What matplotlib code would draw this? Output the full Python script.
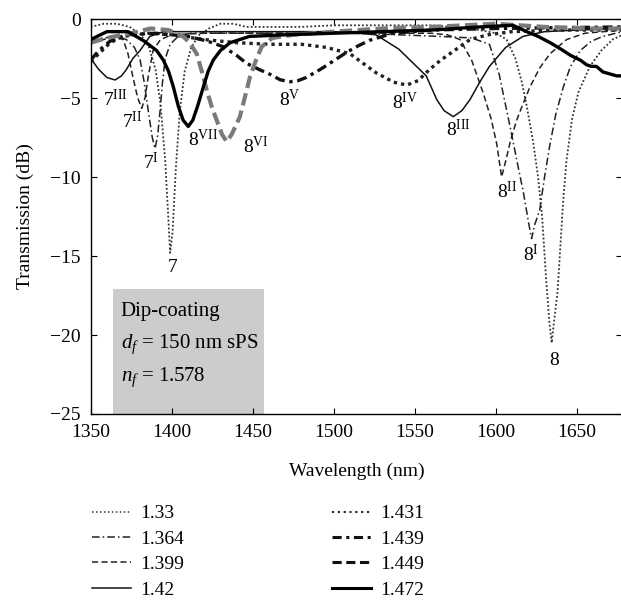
import matplotlib
matplotlib.use("Agg")
import matplotlib.pyplot as plt
from matplotlib.patches import Rectangle
from matplotlib.lines import Line2D

plt.rcParams['font.family'] = ['Liberation Serif', 'DejaVu Serif']
plt.rcParams['mathtext.fontset'] = 'custom'
plt.rcParams['mathtext.rm'] = 'Liberation Serif'
plt.rcParams['mathtext.it'] = 'Liberation Serif:italic'

# ---------------- data ----------------
w133 = [1350, 1358, 1366, 1374, 1381, 1386, 1390, 1393, 1396, 1398, 1399, 1400.5, 1402.5, 1405, 1408, 1412,
        1417, 1423, 1430, 1438, 1446, 1460, 1480, 1500, 1530, 1560, 1585, 1600, 1606.6, 1612, 1616, 1619,
        1623, 1626, 1628.5, 1631, 1633, 1634.4, 1636, 1638, 1640, 1641.5, 1643.5, 1647, 1651, 1658, 1665,
        1672, 1678]
t133 = [-0.5, -0.3, -0.3, -0.5, -1.0, -1.8, -3.2, -5.3, -9.0, -12.8, -14.8, -13.5, -9.5, -5.8, -3.3, -1.8,
        -1.0, -0.6, -0.3, -0.3, -0.5, -0.5, -0.5, -0.4, -0.4, -0.4, -0.6, -0.9, -1.3, -2.5, -4.0, -5.5,
        -7.8, -10.0, -12.5, -16.5, -19.2, -20.5, -19.0, -17.3, -14.0, -11.5, -9.0, -6.3, -4.6, -3.0, -2.0,
        -1.3, -1.0]

w1364 = [1350, 1358, 1366, 1372, 1377, 1380.5, 1383, 1385.5, 1388, 1389.7, 1391.3, 1392.8, 1394.3, 1396,
         1399, 1404, 1412, 1425, 1450, 1480, 1510, 1540, 1565, 1585, 1596, 1602, 1608.7, 1613, 1617, 1620,
         1622, 1624, 1627, 1630, 1633.4, 1637, 1641.6, 1646, 1652, 1659, 1666, 1678]
t1364 = [-1.4, -1.2, -1.1, -1.3, -1.8, -2.6, -4.0, -5.8, -7.5, -8.2, -7.4, -5.8, -4.0, -2.5,
         -1.6, -1.1, -0.9, -0.9, -0.9, -0.9, -0.9, -1.0, -1.1, -1.2, -1.6, -3.5, -6.8, -9.0, -11.0, -12.8,
         -13.9, -13.0, -12.1, -10.0, -7.9, -6.0, -4.3, -3.0, -2.0, -1.4, -1.1, -0.8]

w1399 = [1350, 1358, 1365, 1370, 1373, 1376, 1379, 1381.5, 1383.5, 1385.5, 1388.5, 1393, 1400, 1420, 1460,
         1500, 1540, 1560, 1570, 1577.8, 1585, 1592.2, 1597, 1600.5, 1603.5, 1606, 1609, 1612.8, 1617, 1621,
         1627, 1633.4, 1643.6, 1655, 1678]
t1399 = [-1.5, -1.3, -1.1, -1.3, -2.2, -3.65, -5.0, -5.65, -5.0, -3.65, -2.0, -1.3, -1.0, -0.9, -0.9,
         -0.9, -0.9, -0.9, -1.0, -1.3, -2.6, -4.7, -6.3, -7.9, -10.0, -9.0, -7.7, -6.4, -5.3, -4.3,
         -3.1, -2.2, -1.3, -0.9, -0.7]

w142 = [1350, 1355, 1360, 1365, 1369, 1372, 1376, 1380.4, 1386.5, 1395, 1420, 1460, 1500, 1515, 1526, 1540,
        1551, 1557, 1563.5, 1568, 1573.7, 1579, 1584, 1590, 1596, 1606, 1616.7, 1630, 1650, 1678]
t142 = [-2.5, -3.2, -3.7, -3.86, -3.6, -3.2, -2.5, -2.0, -1.1, -0.8, -0.8, -0.8, -0.8, -0.9, -1.0, -1.9,
        -3.0, -3.6, -5.1, -5.8, -6.18, -5.8, -5.1, -4.0, -3.0, -1.8, -1.1, -0.8, -0.7, -0.6]

w1431 = [1350, 1355, 1362, 1370, 1385, 1400, 1420, 1440, 1460, 1480, 1495.6, 1510, 1526, 1537, 1545, 1552,
         1559, 1566, 1571.6, 1584, 1595, 1610, 1640, 1678]
t1431 = [-2.7, -2.2, -1.5, -1.1, -0.9, -1.0, -1.3, -1.5, -1.6, -1.6, -1.8, -2.2, -3.4, -4.0, -4.18, -3.9,
         -3.2, -2.6, -2.2, -1.3, -1.0, -0.8, -0.7, -0.7]

w1439 = [1350, 1355, 1362, 1372, 1390, 1410, 1422, 1431.6, 1440, 1446, 1454, 1460.6, 1467, 1473, 1478, 1483,
         1491.5, 1497.6, 1508, 1515, 1522, 1536.5, 1560, 1600, 1678]
t1439 = [-2.6, -2.0, -1.4, -1.0, -0.9, -1.1, -1.4, -1.75, -2.3, -2.8, -3.2, -3.5, -3.85, -3.97, -3.9, -3.7,
         -3.2, -2.8, -2.1, -1.7, -1.35, -0.9, -0.7, -0.6, -0.5]

w1449 = [1350, 1360, 1375, 1387, 1398, 1407, 1411, 1415.4, 1418.5, 1421.6, 1424.5, 1427.7, 1431, 1433.9,
         1437, 1442, 1445, 1448.3, 1452, 1455.5, 1462, 1475, 1500, 1530, 1560, 1600, 1630, 1660, 1678]
t1449 = [-1.5, -1.2, -0.9, -0.6, -0.7, -1.1, -1.5, -2.2, -3.3, -4.5, -5.5, -6.4, -7.3, -7.76,
         -7.3, -6.2, -5.0, -3.65, -2.6, -1.75, -1.2, -1.0, -0.8, -0.6, -0.5, -0.3, -0.5, -0.6, -0.6]

w1472 = [1350, 1360, 1373, 1383, 1390.7, 1394.8, 1398, 1401, 1404, 1407, 1410.2, 1413, 1416, 1419.5, 1422.5,
         1425.6, 1430, 1436, 1448, 1470, 1500, 1530, 1560, 1590, 1610.6, 1619, 1626, 1633.5, 1640, 1646,
         1652, 1656, 1659, 1662, 1666, 1674.5, 1678]
t1472 = [-1.3, -0.8, -0.8, -1.4, -2.0, -2.6, -3.3, -4.3, -5.5, -6.4, -6.8, -6.4, -5.5, -4.3, -3.3,
         -2.6, -2.0, -1.5, -1.1, -1.0, -0.9, -0.8, -0.7, -0.5, -0.4, -0.8, -1.1, -1.5, -1.9, -2.3,
         -2.6, -2.9, -3.0, -3.0, -3.35, -3.6, -3.6]

series_labels = ['1.33', '1.364', '1.399', '1.42', '1.431', '1.439', '1.449', '1.472']

dip_labels = [r'$7^{\mathrm{III}}$', r'$7^{\mathrm{II}}$', r'$7^{\mathrm{I}}$', r'$7$',
              r'$8^{\mathrm{VII}}$', r'$8^{\mathrm{VI}}$', r'$8^{\mathrm{V}}$', r'$8^{\mathrm{IV}}$',
              r'$8^{\mathrm{III}}$', r'$8^{\mathrm{II}}$', r'$8^{\mathrm{I}}$', r'$8$']
dip_label_x = [1365, 1375.3, 1387, 1400.6, 1419, 1452, 1473, 1544, 1577, 1607, 1621.6, 1636]
dip_label_y = [-5.1, -6.5, -9.1, -15.7, -7.6, -8.1, -5.1, -5.3, -7.0, -10.9, -14.9, -21.6]

box_lines = ['Dip-coating', r'$d_f$ = 150 nm sPS', r'$n_f$ = 1.578']

# ---------------- figure ----------------
fig = plt.figure(figsize=(6.21, 6.04), dpi=100)
ax = fig.add_axes([0.14605, 0.31457, 0.8556, 0.65397])

styles = [
    dict(color='#333333', lw=1.3, ls=(0, (1, 1.2))),
    dict(color='#222222', lw=1.1, ls=(0, (5, 2, 1, 2))),
    dict(color='#222222', lw=1.1, ls=(0, (4, 2.2))),
    dict(color='#111111', lw=1.1, ls='-'),
    dict(color='#222222', lw=2.4, ls=(0, (1, 1.2))),
    dict(color='#111111', lw=2.4, ls=(0, (3, 1.4, 1, 1.4))),
    dict(color='#7a7a7a', lw=3.0, ls=(0, (3, 1.3))),
    dict(color='#000000', lw=2.4, ls='-'),
]
legend_styles = [
    dict(color='#333333', lw=1.1, ls=(0, (1, 1.6))),
    dict(color='#222222', lw=1.1, ls=(0, (5, 2, 1, 2))),
    dict(color='#222222', lw=1.1, ls=(0, (4, 2.2))),
    dict(color='#111111', lw=1.1, ls='-'),
    dict(color='#222222', lw=1.5, ls=(0, (1, 1.8))),
    dict(color='#111111', lw=2.2, ls=(0, (3, 1.5, 1, 1.5))),
    dict(color='#111111', lw=2.2, ls=(0, (3, 1.5))),
    dict(color='#000000', lw=2.2, ls='-'),
]
xs = [w133, w1364, w1399, w142, w1431, w1439, w1449, w1472]
ys = [t133, t1364, t1399, t142, t1431, t1439, t1449, t1472]
for x, y, lab, st in zip(xs, ys, series_labels, styles):
    ax.plot(x, y, label=lab, solid_joinstyle='round', **st)

handles = [Line2D([], [], **st) for st in legend_styles]

for s, lx, ly in zip(dip_labels, dip_label_x, dip_label_y):
    ax.text(lx, ly, s, ha='center', va='center', fontsize=14)

ax.add_patch(Rectangle((1363.9, -25), 93.2, 7.9, facecolor='#cccccc', edgecolor='none', zorder=1))
for i, s in enumerate(box_lines):
    ax.text(1368.5, -18.5 - 2.1 * i, s, ha='left', va='center', fontsize=15, zorder=3)

ax.set_xlim(1350, 1677.8)
ax.set_ylim(-25, 0)
ax.set_xticks([1350, 1400, 1450, 1500, 1550, 1600, 1650])
ax.set_yticks([0, -5, -10, -15, -20, -25])
ax.tick_params(direction='in', top=True, right=True, length=4, width=0.8, labelsize=14)
ax.tick_params(axis='x', pad=7)
ax.tick_params(axis='y', pad=7)
for sp in ax.spines.values():
    sp.set_linewidth(1.0)
ax.set_xlabel('Wavelength (nm)', fontsize=14, labelpad=16)
ax.set_ylabel('Transmission (dB)', fontsize=14, labelpad=12)

fig.legend(handles=handles, labels=series_labels, ncol=2, loc='upper left',
           bbox_to_anchor=(0.135, 0.177), frameon=False, fontsize=14,
           handlelength=2.0, handletextpad=0.5, columnspacing=7.6, labelspacing=0.4,
           borderaxespad=0)

fig.savefig('out.png', dpi=100)
